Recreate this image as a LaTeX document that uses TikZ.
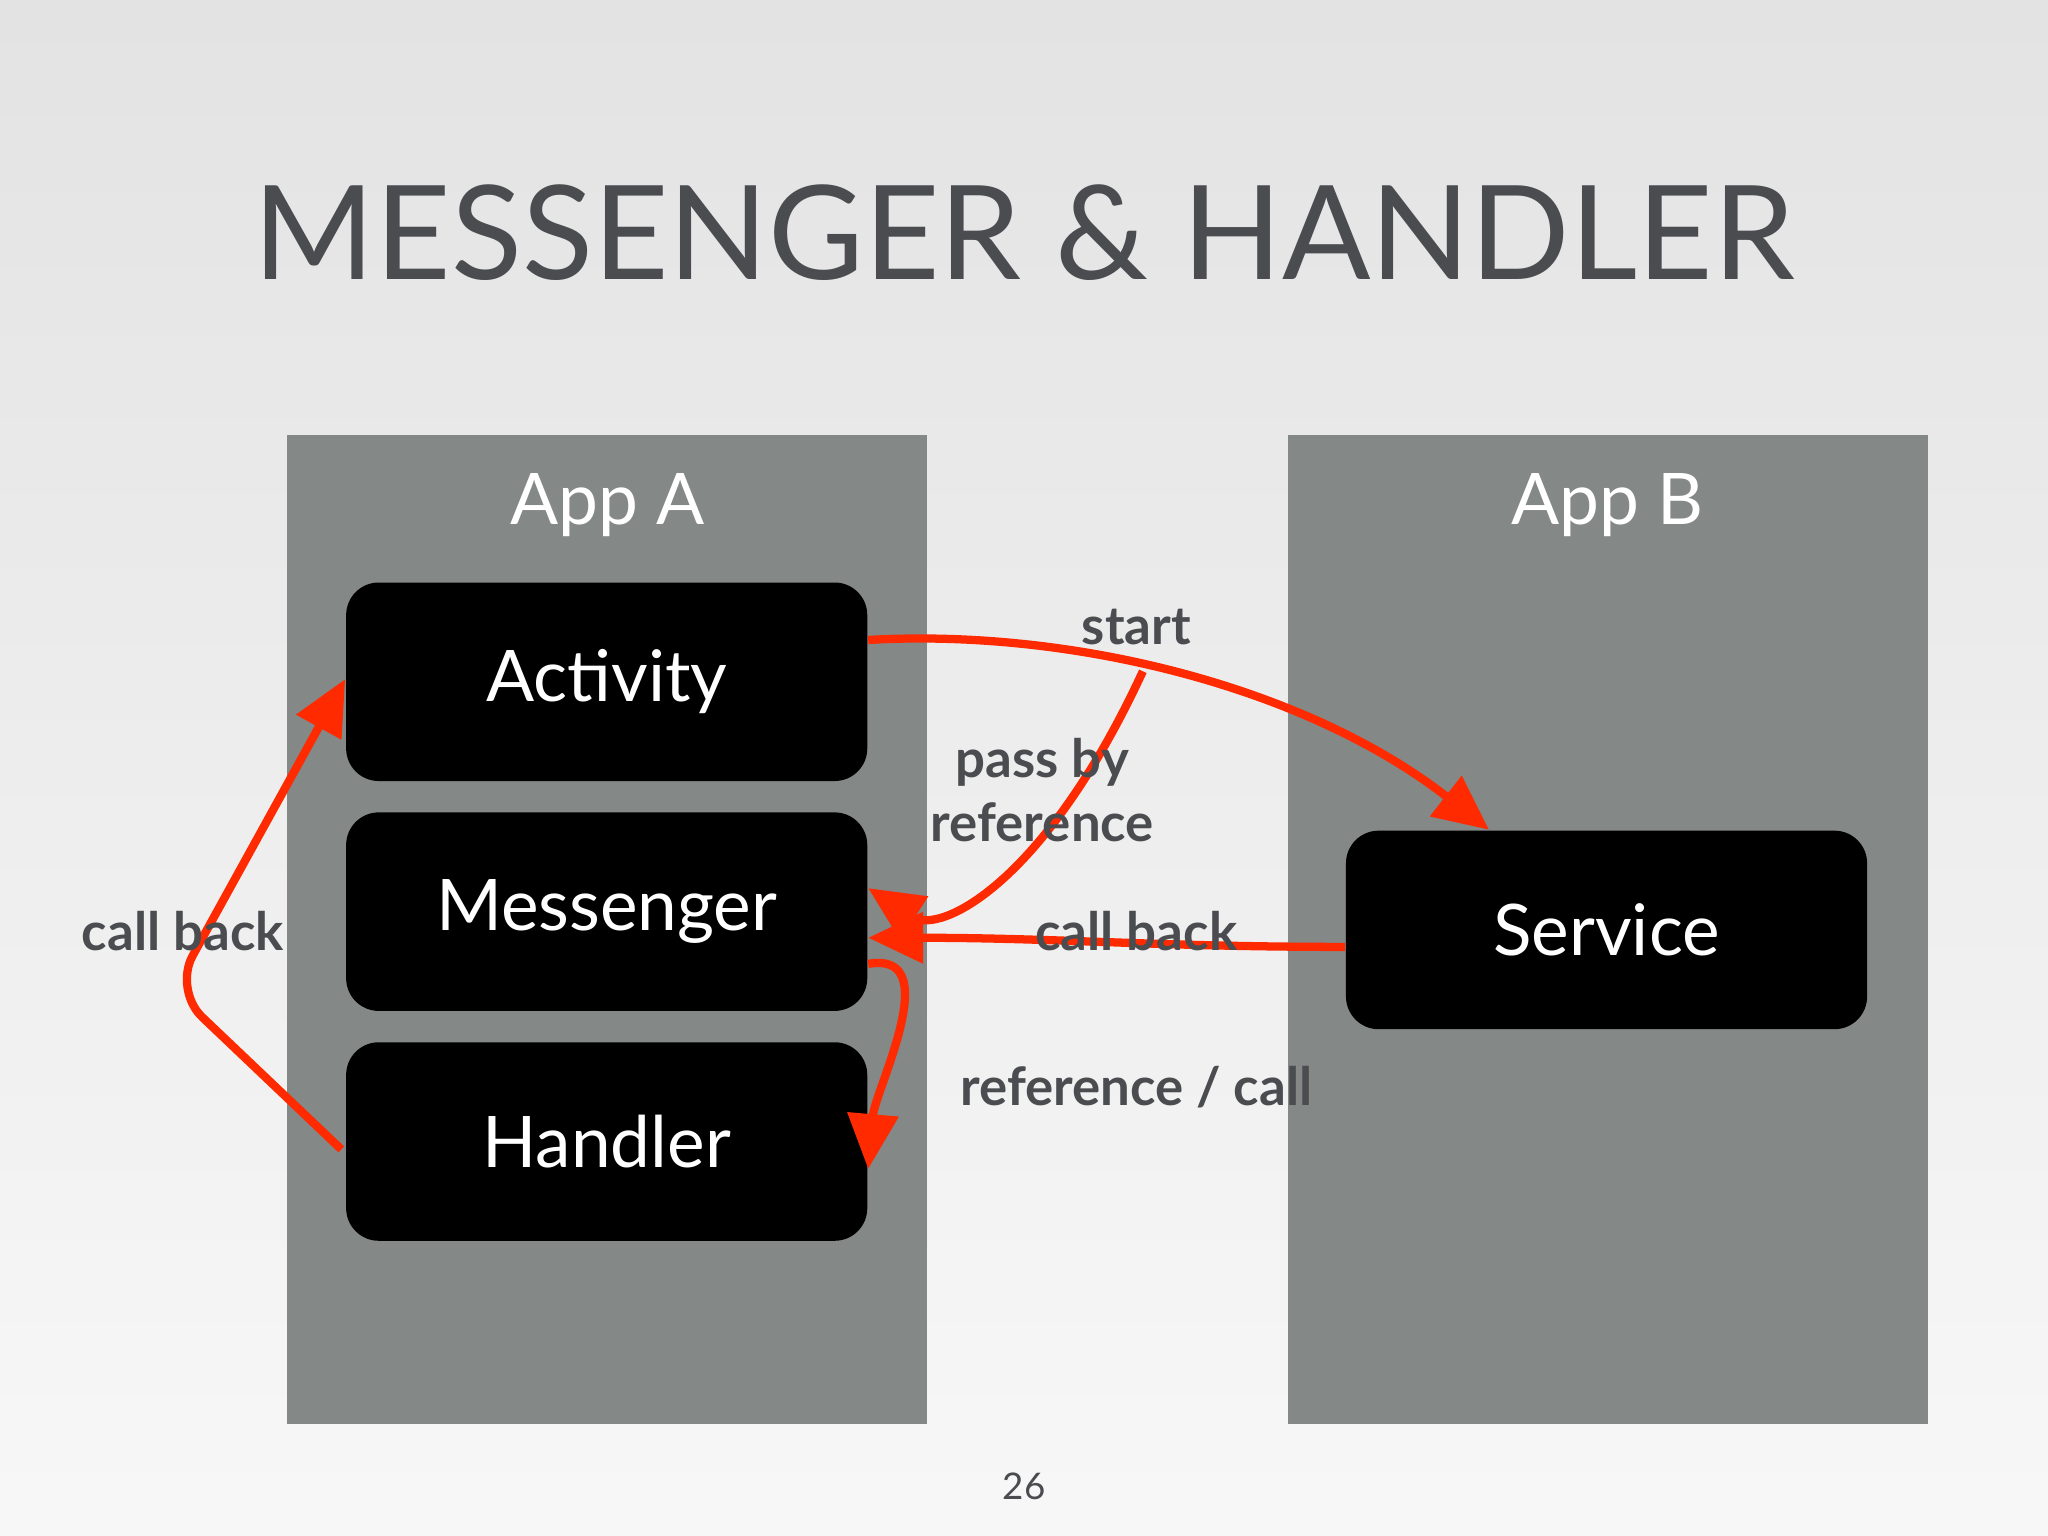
\documentclass[tikz,border=0pt]{standalone}
\usepackage{fontspec}
\setmainfont{Lato}
\usetikzlibrary{arrows.meta}
\definecolor{panelgray}{HTML}{848886}
\definecolor{titlegray}{HTML}{4A4C50}
\definecolor{arrowred}{HTML}{FF2A00}
\tikzset{
    panel/.style={
           rectangle,
           fill=panelgray,
           minimum width=4.9cm,
           minimum height=7.57cm
           },
    comp/.style={
           rectangle,
           rounded corners=0.25cm,
           fill=black,
           text=white,
           minimum width=3.99cm,
           minimum height=1.52cm,
           font=\fontsize{15.5}{18}\selectfont
           },
    flow/.style={
           draw=arrowred,
           line width=1.8pt,
           -{Triangle[length=0.42cm,width=0.38cm]}
           },
    lbl/.style={
           text=titlegray,
           font=\bfseries\fontsize{11.5}{14}\selectfont,
           align=center
           },
}
\begin{document}
\begin{tikzpicture}
   \shade[top color=gray!22, bottom color=gray!6] (0,0) rectangle (15.68,11.76);
   \useasboundingbox (0,0) rectangle (15.68,11.76);

   \node[text=titlegray, font=\fontsize{28.5}{34}\selectfont] (title) at (7.84,9.98) {MESSENGER \& HANDLER};

   \node[panel] (appA) at (4.65,4.645) {};
   \node[panel] (appB) at (12.31,4.645) {};
   \node[text=white, font=\fontsize{15.5}{18}\selectfont] (nameA) at (4.65,7.89) {App A};
   \node[text=white, font=\fontsize{15.5}{18}\selectfont] (nameB) at (12.31,7.89) {App B};

   \node[comp] (act) at (4.645,6.54) {Activity};
   \node[comp] (msg) at (4.645,4.78) {Messenger};
   \node[comp] (hnd) at (4.645,3.02) {Handler};
   \node[comp] (srv) at (12.30,4.64) {Service};

   % start
   \draw[flow] ([yshift=0.32cm]act.east) .. controls (8.2,6.95) and (10.0,6.5)
        .. ([xshift=-0.9cm]srv.north);
   \coordinate (pb) at (8.75,6.62);
   % pass by reference
   \draw[flow] (pb) .. controls (8.0,5.0) and (7.2,4.6) .. ([yshift=0.18cm]msg.east);
   % call back from service
   \draw[flow] ([yshift=-0.13cm]srv.west) to[out=180,in=0] ([yshift=-0.2cm]msg.east);
   % reference / call
   \draw[flow] ([yshift=-0.4cm]msg.east) to[out=10,in=85] ([yshift=-0.21cm]hnd.east);
   % call back to activity
   \draw[flow, rounded corners=0.3cm] ([xshift=-0.03cm,yshift=-0.06cm]hnd.west)
        -- (1.33,4.18) -- ([yshift=0.02cm]act.west);

   \node[lbl] (lstart) at (8.70,6.96) {start};
   \node[lbl] (lpass) at (7.98,5.71) {pass by\\reference};
   \node[lbl] (lcb) at (8.70,4.63) {call back};
   \node[lbl] (lref) at (8.70,3.44) {reference / call};
   \node[lbl] (lcbl) at (1.40,4.63) {call back};

   \node[text=titlegray, font=\fontsize{8}{10}\selectfont] (page) at (7.84,0.38) {26};
\end{tikzpicture}
\end{document}
